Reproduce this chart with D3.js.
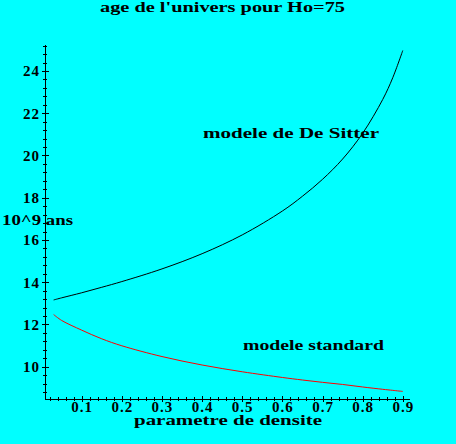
<!DOCTYPE html>
<html><head><meta charset="utf-8">
<script src="https://cdn.jsdelivr.net/npm/d3@7"></script>
<style>
html,body{margin:0;padding:0;background:#00ffff;}
svg{display:block;}
text{font-family:"Liberation Serif","DejaVu Serif",serif;font-weight:bold;fill:#000;}
</style></head>
<body><svg id="c" width="456" height="444"></svg>
<script>
const densite  = [0.03, 0.05, 0.1, 0.15, 0.2, 0.3, 0.4, 0.5, 0.6, 0.65, 0.7, 0.75, 0.8, 0.85, 0.875, 0.9];
const deSitter = [13.16, 13.26, 13.5, 13.76, 14.03, 14.63, 15.35, 16.24, 17.37, 18.07, 18.87, 19.83, 21.05, 22.65, 23.68, 24.97];
const standard = [12.47, 12.19, 11.73, 11.32, 10.99, 10.48, 10.08, 9.76, 9.49, 9.37, 9.26, 9.16, 9.04, 8.93, 8.88, 8.83];
const xTicks = [0.1, 0.2, 0.3, 0.4, 0.5, 0.6, 0.7, 0.8, 0.9];
const yTicks = [10, 12, 14, 16, 18, 20, 22, 24];
const title = "age de l'univers pour Ho=75";
const xLabel = "parametre de densite";
const yLabel = "10^9 ans";
const lab1 = "modele de De Sitter";
const lab2 = "modele standard";

const svg = d3.select("#c");
svg.append("rect").attr("width",456).attr("height",444).attr("fill","#00ffff");

const x = d3.scaleLinear().domain([0.0085, 0.918]).range([45, 410]);
const y = d3.scaleLinear().domain([8.485, 25.23]).range([398.7, 45]);

const xMinor = d3.range(1, 46).map(i => i*0.02).filter(v => v <= 0.918);
const yMinor = d3.range(22, 64).map(i => i*0.4).filter(v => v >= 8.5 && v <= 25.23);

// x axis
const gx = svg.append("g").attr("transform","translate(0,399)").attr("shape-rendering","crispEdges");
gx.call(d3.axisBottom(x).tickValues(xMinor).tickSize(0).tickFormat(""));
gx.select(".domain").remove();
gx.selectAll(".tick").append("line").attr("y1",-2).attr("y2",2).attr("stroke","#000");
const gxM = svg.append("g").attr("transform","translate(0,399)").attr("shape-rendering","crispEdges");
gxM.call(d3.axisBottom(x).tickValues(xTicks).tickSize(0).tickFormat(d3.format(".1f")));
gxM.select(".domain").remove();
gxM.selectAll(".tick").append("line").attr("y1",-3).attr("y2",3).attr("stroke","#000");
gxM.selectAll(".tick text").attr("font-size","15px").attr("font-family","Liberation Serif")
   .attr("font-weight","bold").attr("letter-spacing","1px").attr("y",13).attr("dy",0);
gxM.append("line").attr("x1",45).attr("x2",410).attr("stroke","#000");

// y axis
const gy = svg.append("g").attr("transform","translate(45,0)").attr("shape-rendering","crispEdges");
gy.call(d3.axisLeft(y).tickValues(yMinor).tickSize(0).tickFormat(""));
gy.select(".domain").remove();
gy.selectAll(".tick").append("line").attr("x1",-2).attr("x2",2).attr("stroke","#000");
const gyM = svg.append("g").attr("transform","translate(45,0)").attr("shape-rendering","crispEdges");
gyM.call(d3.axisLeft(y).tickValues(yTicks).tickSize(0).tickPadding(5).tickFormat(d3.format("d")));
gyM.select(".domain").remove();
gyM.selectAll(".tick").append("line").attr("x1",-3).attr("x2",4).attr("stroke","#000");
gyM.selectAll(".tick text").attr("font-size","15px").attr("font-family","Liberation Serif")
   .attr("font-weight","bold").attr("letter-spacing","1px");
gyM.append("line").attr("y1",45).attr("y2",399).attr("stroke","#000");

const line = d3.line().x((d,i)=>x(densite[i])).y(d=>y(d)).curve(d3.curveCatmullRom.alpha(0.5));
svg.append("path").attr("d", line(deSitter)).attr("fill","none").attr("stroke","#000").attr("stroke-width",1);
svg.append("path").attr("d", line(standard)).attr("fill","none").attr("stroke","#ff0000").attr("stroke-width",1);

function txt(s, x0, yb, w, fs){
  svg.append("text").attr("x",x0).attr("y",yb).attr("font-size",fs+"px")
    .attr("textLength",w).attr("lengthAdjust","spacingAndGlyphs").text(s);
}
txt(title, 100, 12, 245, 14);
txt(lab1, 203, 138, 176, 14);
txt(lab2, 243, 350, 141, 14);
txt(yLabel, 2, 225, 71, 14);
txt(xLabel, 134, 425, 188, 14);
</script></body></html>
